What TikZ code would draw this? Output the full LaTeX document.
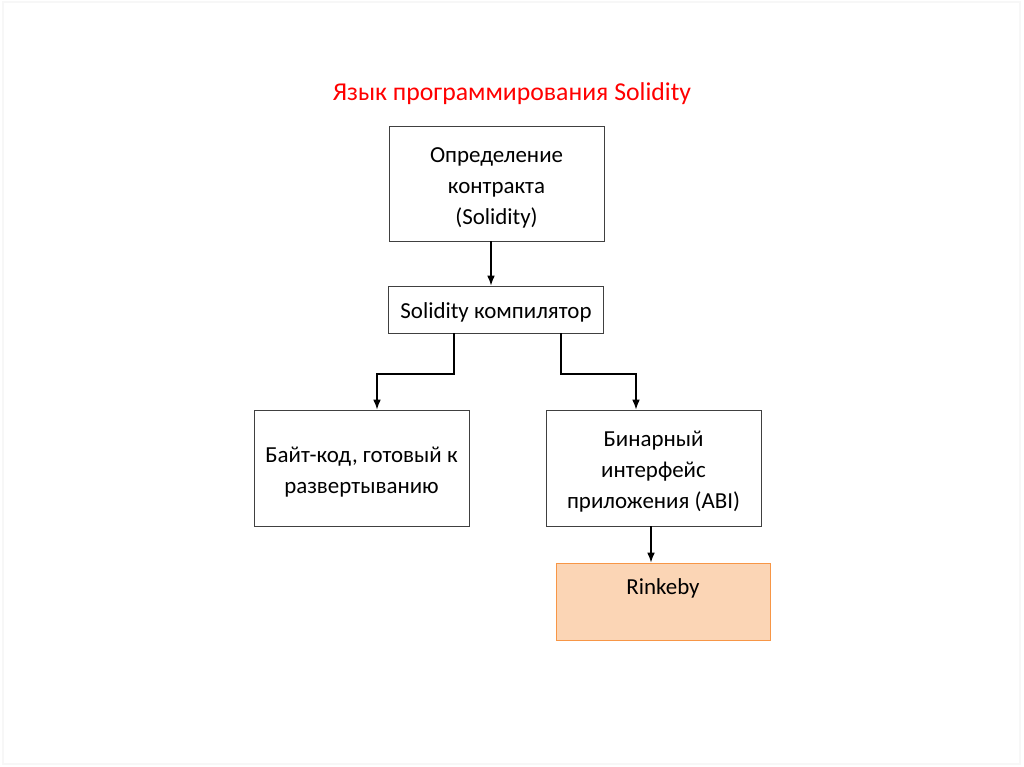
\documentclass[tikz,border=0pt]{standalone}
\usepackage{fontspec}
\setmainfont{Carlito}
\usetikzlibrary{positioning}
\usetikzlibrary{arrows.meta}

\definecolor{titlered}{RGB}{255,0,0}
\definecolor{peach}{RGB}{251,213,181}
\definecolor{peachedge}{RGB}{247,150,70}

\begin{document}
\begin{tikzpicture}[x=0.025cm, y=-0.025cm, font=\fontsize{16.3}{22}\selectfont,
  box/.style={draw=black!75, line width=0.6pt, align=center, inner sep=0pt,
    minimum width=5.375cm},
  link/.style={draw=black, line width=1pt, -{Latex[length=7pt,width=5.5pt]}}]

  %----------------------------------------------------------
  % slide frame and title
  %----------------------------------------------------------
  \fill[white] (0,0) rectangle (1024,767);
  \draw[black!3, line width=1pt] (3,2) rectangle (1020,764);
  \node[text=titlered, font=\fontsize{18.3}{22}\selectfont] (title) at (512,94)
    {Язык программирования Solidity};

  %----------------------------------------------------------
  % boxes
  %----------------------------------------------------------
  \node[box, minimum height=2.875cm] (contract) at (496.5,183.5)
    {\rule{0pt}{16.5pt}Определение\\контракта\\(Solidity)};
  \node[box, minimum height=1.175cm] (compiler) at (496,309.5)
    {\rule{0pt}{15pt}Solidity компилятор};
  \node[box, minimum height=2.9cm] (bytecode) at (361.5,468)
    {\rule{0pt}{16.5pt}Байт-код, готовый к\\развертыванию};
  \node[box, minimum height=2.9cm] (abi) at (653.5,468)
    {\rule{0pt}{16pt}Бинарный\\интерфейс\\приложения (ABI)};
  \node[box, fill=peach, draw=peachedge, minimum height=1.925cm,
    minimum width=5.35cm] (rinkeby) at (663,601.5) {Rinkeby\\[-8pt]\strut};

  %----------------------------------------------------------
  % connectors
  %----------------------------------------------------------
  \coordinate (c1) at (454,374);
  \coordinate (c2) at (561,374);
  \draw[link] (compiler.south -| c1) |- (c1) -| (bytecode.north -| 377,0);
  \draw[link] (compiler.south -| c2) |- (c2) -| (abi.north -| 636,0);
  \draw[link] (contract.south -| 491,0) -- (compiler.north -| 491,0);
  \draw[link] (abi.south -| 651,0) -- (rinkeby.north -| 651,0);
\end{tikzpicture}
\end{document}
